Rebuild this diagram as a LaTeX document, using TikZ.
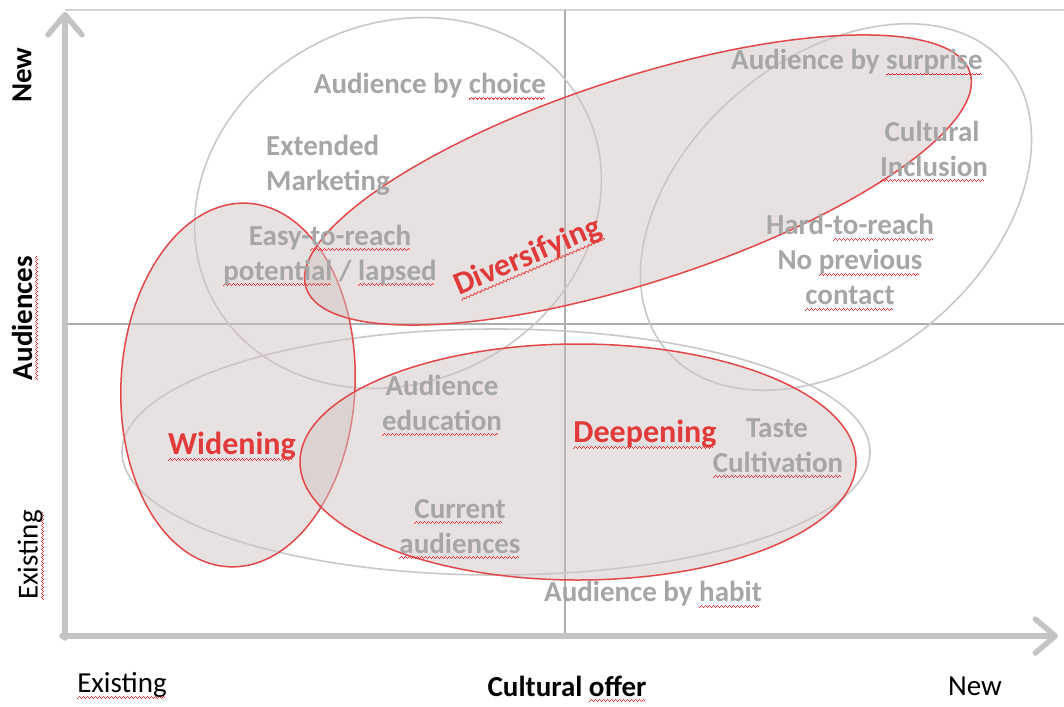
\documentclass[tikz,border=0pt]{standalone}
\usepackage{fontspec}
\setmainfont{Carlito}
\usetikzlibrary{arrows.meta}
\definecolor{gtext}{HTML}{A6A6A6}
\definecolor{redl}{HTML}{E03A3A}
\definecolor{redline}{HTML}{E2474A}
\definecolor{fillc}{HTML}{D2C4C4}
\definecolor{gline}{HTML}{C8C8C8}
\definecolor{axisc}{HTML}{C4C4C4}
\definecolor{midl}{HTML}{ADADAD}
\definecolor{squig}{HTML}{E83030}
\newsavebox\sqbox
\newcommand\wavepiece{\hbox{{\color{squig}\rule[0pt]{1pt}{1pt}\rule[0.8pt]{1pt}{1pt}\rule[1.6pt]{1pt}{1pt}\rule[0.8pt]{1pt}{1pt}}}}
\newcommand\sq[1]{\sbox\sqbox{#1}\rlap{\raisebox{-6pt}[0pt][0pt]{\hbox to\wd\sqbox{\leaders\wavepiece\hfill}}}\usebox\sqbox}
\begin{document}
\begin{tikzpicture}[x=1pt,y=-1pt,
  greytxt/.style={text=gtext, font=\bfseries\fontsize{29}{35}\selectfont, inner sep=0, text height=22pt, text depth=7pt},
  redtxt/.style={text=redl, font=\bfseries\fontsize{32}{38}\selectfont, inner sep=0},
  axlab/.style={text=black, font=\fontsize{29}{35}\selectfont, inner sep=0},
  axlabb/.style={text=black, font=\bfseries\fontsize{29}{35}\selectfont, inner sep=0},
  axisline/.style={line width=5.5pt, draw=axisc, line cap=round, -{Straight Barb[length=20pt,width=34pt,round]}},
  redell/.style={draw=redline, line width=1.5pt, fill=fillc, fill opacity=0.5},
  greyell/.style={draw=gline, line width=1.6pt},
  midline/.style={draw=midl, line width=2.4pt},
  topline/.style={draw=gline!80, line width=2pt}]
\fill[white] (0,0) rectangle (1064,706);
\useasboundingbox (0,0) rectangle (1064,706);
% frame and axes
\coordinate (O) at (65,636);
\coordinate (ytip) at (65,12);
\coordinate (xtip) at (1058,636);
\coordinate (tl) at (65,10);
\coordinate (tr) at (1064,10);
\coordinate (mt) at (565,10);
\coordinate (mb) at (565,636);
\coordinate (ml) at (65,324);
\coordinate (mr) at (1064,324);
\draw[topline] (tl) -- (tr);
\draw[midline] (mt) -- (mb);
\draw[midline] (ml) -- (mr);
\draw[axisline] (65,638) -- (ytip);
\draw[axisline] (62,636) -- (xtip);
% grey ellipses
\draw[greyell] (398,203) ellipse [x radius=209, y radius=179, rotate=26.5];
\draw[greyell] (836,207) ellipse [x radius=222, y radius=150, rotate=40];
\draw[greyell] (496,452) ellipse [x radius=374, y radius=123];
% red ellipses
\draw[redell] (238,385) ellipse [x radius=117, y radius=182, rotate=-3];
\draw[redell] (638,180) ellipse [x radius=349, y radius=102, rotate=18];
\draw[redell] (578,462) ellipse [x radius=278, y radius=118];
% grey texts
\node[greytxt] (choice) at (430,86) {Audience by \sq{choice}};
\node[greytxt, anchor=west] (ext1) at (266,147.5) {Extended};
\node[greytxt, anchor=west] (ext2) at (266,182.5) {Marketing};
\node[greytxt] (easy1) at (330,237.5) {Easy-\sq{to-reach}};
\node[greytxt] (easy2) at (330,272.5) {\sq{potential} / \sq{lapsed}};
\node[greytxt] (surprise) at (857,62) {Audience by \sq{surprise}};
\node[greytxt] (incl1) at (932,133.5) {Cultural};
\node[greytxt] (incl2) at (934,168.5) {\sq{Inclusion}};
\node[greytxt] (hard1) at (850,227) {Hard-\sq{to-reach}};
\node[greytxt] (hard2) at (850,262) {No \sq{previous}};
\node[greytxt] (hard3) at (850,297) {\sq{contact}};
\node[greytxt] (educ1) at (442,387.5) {Audience};
\node[greytxt] (educ2) at (442,422.5) {\sq{education}};
\node[greytxt] (taste1) at (777,429.5) {Taste};
\node[greytxt] (taste2) at (778,464.5) {\sq{Cultivation}};
\node[greytxt] (curr1) at (460,510.5) {\sq{Current}};
\node[greytxt] (curr2) at (460,545.5) {\sq{audiences}};
\node[greytxt] (habit) at (653,594) {Audience by \sq{habit}};
% red texts
\node[redtxt] (wid) at (232,446) {\sq{Widening}};
\node[redtxt] (deep) at (645,434) {\sq{Deepening}};
\node[redtxt, rotate=23] (div) at (528,257) {\sq{Diversifying}};
% axis labels
\node[axlabb, rotate=90] (ynew) at (22,75) {New};
\node[axlabb, rotate=90] (yaud) at (22,318) {\sq{Audiences}};
\node[axlab, rotate=90] (yex) at (30,555) {\sq{Existing}};
\node[axlab] (xex) at (122,685) {\sq{Existing}};
\node[axlabb] (xcult) at (567,686) {Cultural \sq{offer}};
\node[axlab] (xnew) at (975,686) {New};
\end{tikzpicture}
\end{document}
